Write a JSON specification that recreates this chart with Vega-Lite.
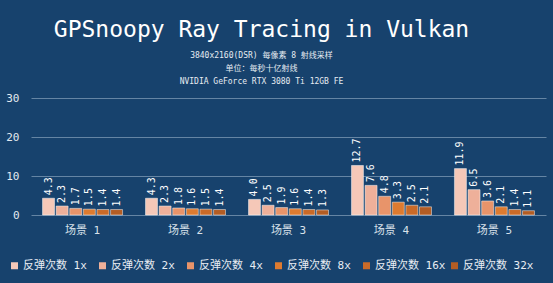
{
  "$schema": "https://vega.github.io/schema/vega-lite/v6.json",
  "width": 515,
  "height": 117,
  "autosize": {"type": "none"},
  "padding": {"left": 31, "top": 98, "right": 7, "bottom": 68},
  "background": "#17426d",
  "title": {
    "text": "GPSnoopy Ray Tracing in Vulkan",
    "subtitle": ["3840x2160(DSR) 每像素 8 射线采样", "单位：每秒十亿射线", "NVIDIA GeForce RTX 3080 Ti 12GB FE"],
    "anchor": "middle",
    "dx": -27,
    "offset": 6,
    "font": "DejaVu Sans Mono",
    "fontSize": 23,
    "fontWeight": "normal",
    "color": "#ffffff",
    "subtitleFont": "DejaVu Sans Mono, Noto Sans CJK SC",
    "subtitleFontSize": 8,
    "subtitleColor": "#e6ecf2",
    "subtitleLineHeight": 13,
    "subtitlePadding": 10
  },
  "data": {
    "values": [
      {"scene": "场景 1", "bounce": "反弹次数 1x", "value": 4.3},
      {"scene": "场景 1", "bounce": "反弹次数 2x", "value": 2.3},
      {"scene": "场景 1", "bounce": "反弹次数 4x", "value": 1.7},
      {"scene": "场景 1", "bounce": "反弹次数 8x", "value": 1.5},
      {"scene": "场景 1", "bounce": "反弹次数 16x", "value": 1.4},
      {"scene": "场景 1", "bounce": "反弹次数 32x", "value": 1.4},
      {"scene": "场景 2", "bounce": "反弹次数 1x", "value": 4.3},
      {"scene": "场景 2", "bounce": "反弹次数 2x", "value": 2.3},
      {"scene": "场景 2", "bounce": "反弹次数 4x", "value": 1.8},
      {"scene": "场景 2", "bounce": "反弹次数 8x", "value": 1.6},
      {"scene": "场景 2", "bounce": "反弹次数 16x", "value": 1.5},
      {"scene": "场景 2", "bounce": "反弹次数 32x", "value": 1.4},
      {"scene": "场景 3", "bounce": "反弹次数 1x", "value": 4.0},
      {"scene": "场景 3", "bounce": "反弹次数 2x", "value": 2.5},
      {"scene": "场景 3", "bounce": "反弹次数 4x", "value": 1.9},
      {"scene": "场景 3", "bounce": "反弹次数 8x", "value": 1.6},
      {"scene": "场景 3", "bounce": "反弹次数 16x", "value": 1.4},
      {"scene": "场景 3", "bounce": "反弹次数 32x", "value": 1.3},
      {"scene": "场景 4", "bounce": "反弹次数 1x", "value": 12.7},
      {"scene": "场景 4", "bounce": "反弹次数 2x", "value": 7.6},
      {"scene": "场景 4", "bounce": "反弹次数 4x", "value": 4.8},
      {"scene": "场景 4", "bounce": "反弹次数 8x", "value": 3.3},
      {"scene": "场景 4", "bounce": "反弹次数 16x", "value": 2.5},
      {"scene": "场景 4", "bounce": "反弹次数 32x", "value": 2.1},
      {"scene": "场景 5", "bounce": "反弹次数 1x", "value": 11.9},
      {"scene": "场景 5", "bounce": "反弹次数 2x", "value": 6.5},
      {"scene": "场景 5", "bounce": "反弹次数 4x", "value": 3.6},
      {"scene": "场景 5", "bounce": "反弹次数 8x", "value": 2.1},
      {"scene": "场景 5", "bounce": "反弹次数 16x", "value": 1.4},
      {"scene": "场景 5", "bounce": "反弹次数 32x", "value": 1.1}
    ]
  },
  "encoding": {
    "x": {
      "field": "scene", "type": "nominal", "title": null,
      "scale": {"paddingInner": 0.223, "paddingOuter": 0.112},
      "axis": {"labelAngle": 0, "domain": false, "ticks": false, "labelPadding": 9,
               "labelFont": "DejaVu Sans Mono, Noto Sans CJK SC", "labelFontSize": 11, "labelColor": "#d9e1ea"}
    },
    "xOffset": {
      "field": "bounce", "type": "nominal",
      "sort": ["反弹次数 1x", "反弹次数 2x", "反弹次数 4x", "反弹次数 8x", "反弹次数 16x", "反弹次数 32x"],
      "scale": {"paddingInner": 0.12, "paddingOuter": 0}
    },
    "y": {
      "field": "value", "type": "quantitative", "title": null,
      "scale": {"domain": [0, 30], "nice": false},
      "axis": {"values": [0, 10, 20, 30], "domain": false, "ticks": false, "labelPadding": 12,
               "gridColor": "#6585a4", "gridWidth": 1,
               "labelFont": "DejaVu Sans Mono", "labelFontSize": 11, "labelColor": "#e3e9f0"}
    }
  },
  "layer": [
    {
      "mark": {"type": "bar", "stroke": "#ffffff", "strokeWidth": 0.8, "strokeOpacity": 0.6},
      "encoding": {
        "color": {
          "field": "bounce", "type": "nominal",
          "sort": ["反弹次数 1x", "反弹次数 2x", "反弹次数 4x", "反弹次数 8x", "反弹次数 16x", "反弹次数 32x"],
          "scale": {
            "domain": ["反弹次数 1x", "反弹次数 2x", "反弹次数 4x", "反弹次数 8x", "反弹次数 16x", "反弹次数 32x"],
            "range": ["#f5c8b8", "#eeb09a", "#e8946a", "#dd7b30", "#c96a28", "#b35d24"]
          },
          "legend": {
            "title": null, "orient": "none", "legendX": -22, "legendY": 162,
            "direction": "horizontal", "columns": 6, "gridAlign": "all",
            "symbolType": "square", "symbolSize": 49, "symbolStrokeWidth": 0,
            "labelOffset": 3, "columnPadding": 3,
            "labelFont": "DejaVu Sans Mono, Noto Sans CJK SC", "labelFontSize": 11, "labelColor": "#e8edf3"
          }
        }
      }
    },
    {
      "mark": {"type": "text", "angle": -90, "align": "left", "baseline": "middle", "dx": 3,
               "font": "DejaVu Sans Mono", "fontSize": 10, "color": "#ffffff"},
      "encoding": {
        "text": {"field": "value", "type": "quantitative", "format": ".1f"}
      }
    }
  ],
  "config": {
    "view": {"stroke": null}
  }
}
